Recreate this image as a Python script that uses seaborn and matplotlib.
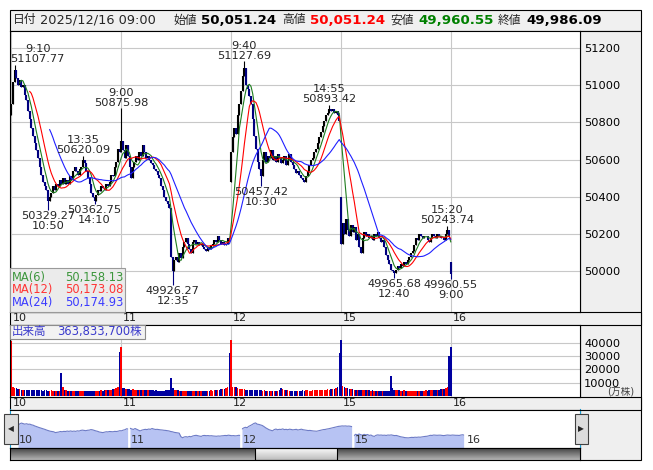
import numpy as np
import pandas as pd
import seaborn as sns
import matplotlib.pyplot as plt
from matplotlib import transforms
from matplotlib.patches import Rectangle
from matplotlib.colors import LinearSegmentedColormap

# ---- chart values: 5-minute bars (9:00-11:30, 12:30-15:30) ----
days = ["10", "11", "12", "15", "16"]
day_open = [50840.0, 50640.0, 50480.0, 50400.0, 50051.24]

close_d10 = [50900, 51020, 51080, 51040, 51000, 51030, 50990, 51000, 50950, 50920,
             50860, 50820, 50770, 50730, 50690, 50650, 50610, 50560, 50520, 50480,
             50460, 50440, 50380, 50400, 50420, 50460, 50440, 50470, 50460, 50490,
             50470, 50500, 50470, 50490, 50470, 50510, 50490, 50540, 50560, 50540,
             50520, 50550, 50560, 50600, 50580, 50540, 50500, 50470, 50420, 50400,
             50380, 50410, 50440, 50430, 50460, 50450, 50440, 50470, 50460, 50480,
             50520, 50510, 50560, 50590, 50660, 50640]
close_d11 = [50700, 50650, 50610, 50680, 50620, 50560, 50500, 50560, 50590, 50620,
             50600, 50640, 50620, 50680, 50640, 50610, 50620, 50600, 50580, 50570,
             50550, 50540, 50520, 50500, 50460, 50440, 50400, 50380, 50360, 50340,
             50080, 50000, 50060, 50080, 50050, 50100, 50070, 50130, 50160, 50180,
             50150, 50120, 50100, 50160, 50170, 50150, 50160, 50140, 50150, 50130,
             50120, 50110, 50130, 50120, 50140, 50150, 50170, 50160, 50190, 50170,
             50150, 50160, 50140, 50150, 50180, 50170]
close_d12 = [50640, 50720, 50770, 50740, 50840, 50900, 50970, 51050, 51090, 51000,
             50980, 50940, 50900, 50820, 50730, 50660, 50590, 50550, 50510, 50600,
             50640, 50590, 50620, 50610, 50650, 50600, 50620, 50590, 50630, 50610,
             50580, 50600, 50620, 50570, 50600, 50630, 50590, 50570, 50550, 50530,
             50540, 50520, 50500, 50490, 50480, 50510, 50540, 50570, 50600, 50610,
             50640, 50660, 50690, 50720, 50750, 50780, 50810, 50840, 50850, 50870,
             50860, 50870, 50850, 50860, 50840, 50810]
close_d15 = [50150, 50260, 50200, 50280, 50220, 50190, 50250, 50210, 50240, 50170,
             50200, 50130, 50100, 50180, 50210, 50190, 50200, 50180, 50190, 50170,
             50200, 50190, 50210, 50180, 50160, 50170, 50130, 50090, 50060, 50040,
             50010, 50000, 49990, 50010, 50030, 50020, 50040, 50030, 50050, 50040,
             50060, 50080, 50100, 50110, 50140, 50180, 50170, 50200, 50190, 50180,
             50190, 50190, 50170, 50160, 50180, 50200, 50190, 50180, 50200, 50190,
             50180, 50180, 50170, 50200, 50220, 50192]
close_d16 = [49986.09]

# volume in 万株
vol_d10 = [41500, 7200, 6600, 6000, 5800, 5200,
           5000, 4800, 5000, 4600, 4800, 4700, 4900, 4600, 4500, 4700,
           4600, 4500, 4800, 4400, 4600, 4500, 4400, 4300, 4500, 4400,
           4200, 4300, 4100, 4400,
           17500, 6800,
           4800, 4500, 4300, 4200, 4100, 4200, 4000, 4100, 4200, 4000,
           4100, 4000, 4200, 4100, 4000, 4300, 4100, 4200, 4300, 4100,
           4400, 4200, 4500, 4300, 4600, 4500, 4800, 4700, 5000, 5200,
           5500, 6000, 6800, 33300]
vol_d11 = [36500, 6500, 6000, 5600, 5800, 5200,
           5000, 5200, 4800, 5000, 4700, 4900, 4600, 4800, 5000, 4700,
           4600, 4800, 4500, 4600, 4400, 4500, 4300, 4400, 4200, 4300,
           4400, 4600, 4500, 4800,
           13500, 6600,
           5000, 4600, 4500, 4300, 4400, 4200, 4300, 4100, 4200, 4000,
           4100, 4200, 4000, 4100, 4300, 4000, 4200, 4100, 4300, 4200,
           4400, 4300, 4500, 4400, 4700, 4600, 4900, 5000, 5300, 5600,
           5800, 6200, 7000, 32000]
vol_d12 = [41800, 7200, 7000, 6800, 6200, 5800,
           5600, 5400, 5200, 5000, 5100, 4900, 4800, 5000, 4700, 4600,
           4800, 4500, 4600, 4400, 4500, 4300, 4400, 4200, 4300, 4100,
           4200, 4400, 4300, 4500,
           6400, 5600,
           4800, 4600, 4500, 4300, 4400, 4200, 4300, 4100, 4200, 4400,
           4300, 4500, 4400, 4600, 4500, 4300, 4400, 4600, 4500, 4700,
           4600, 4800, 4700, 4900, 5000, 4800, 5200, 5100, 5400, 5600,
           5900, 6300, 7200, 32300]
vol_d15 = [41800, 7400, 6800, 6400, 6000, 5600,
           5400, 5200, 5000, 4900, 5000, 4800, 4700, 4900, 4600, 4700,
           4500, 4600, 4400, 4500, 4300, 4400, 4200, 4300, 4400, 4200,
           4300, 4100, 4200, 4400,
           15000, 6200,
           5000, 4700, 4500, 4600, 4400, 4300, 4500, 4200, 4300, 4400,
           4200, 4300, 4100, 4200, 4400, 4300, 4200, 4400, 4300, 4500,
           4400, 4600, 4500, 4700, 4600, 4800, 4700, 5000, 5200, 5500,
           5800, 6200, 7000, 30300]
vol_d16 = [36383]

# labelled highs and lows: (day, bar of day, time, price, kind)
extremes = [
    (0, 2, "9:10", 51107.77, "high"),
    (0, 22, "10:50", 50329.27, "low"),
    (0, 43, "13:35", 50620.09, "high"),
    (0, 50, "14:10", 50362.75, "low"),
    (1, 0, "9:00", 50875.98, "high"),
    (1, 31, "12:35", 49926.27, "low"),
    (2, 8, "9:40", 51127.69, "high"),
    (2, 18, "10:30", 50457.42, "low"),
    (2, 59, "14:55", 50893.42, "high"),
    (3, 32, "12:40", 49965.68, "low"),
    (3, 64, "15:20", 50243.74, "high"),
    (4, 0, "9:00", 49960.55, "low"),
]

header_labels = ["日付", "始値", "高値", "安値", "終値"]
header_date = "2025/12/16 09:00"
header_values = ["50,051.24", "50,051.24", "49,960.55", "49,986.09"]
ma_windows = [6, 12, 24]
ma_values = ["50,158.13", "50,173.08", "50,174.93"]
volume_text = "363,833,700株"
price_ticks = [50000, 50200, 50400, 50600, 50800, 51000, 51200]
vol_ticks = [10000, 20000, 30000, 40000]

# ---- build the frame ----
closes = [close_d10, close_d11, close_d12, close_d15, close_d16]
vols = [vol_d10, vol_d11, vol_d12, vol_d15, vol_d16]
df = pd.DataFrame({
    "close": [c for day in closes for c in day],
    "volume": [v for day in vols for v in day],
    "day": [d for d, day in enumerate(closes) for _ in day],
})
df["bar"] = np.arange(len(df))
starts = [int(df.index[df.day == d][0]) for d in range(len(days))]
df["open"] = df["close"].shift(1)
df.loc[starts, "open"] = day_open
df["high"] = df[["open", "close"]].max(axis=1)
df["low"] = df[["open", "close"]].min(axis=1)
for d, b, t, v, kind in extremes:
    df.loc[starts[d] + b, kind] = v
df["up"] = df["close"] >= df["open"]
for w in ma_windows:
    df[f"ma{w}"] = df["close"].rolling(w).mean()

# ---- figure ----
sns.set_theme(style="white")
plt.rcParams["font.family"] = ["DejaVu Sans", "Noto Sans CJK JP"]

W, H = 653, 470
fig = plt.figure(figsize=(W / 100, H / 100), dpi=100)
fig.patch.set_facecolor("white")


def frect(x0, y0, x1, y1):
    return [x0 / W, 1 - y1 / H, (x1 - x0) / W, (y1 - y0) / H]


def fbox(x0, y0, x1, y1, fc, ec="black", lw=0.8, z=-1, alpha=1.0):
    fig.add_artist(Rectangle((x0 / W, 1 - y1 / H), (x1 - x0) / W, (y1 - y0) / H,
                             transform=fig.transFigure, facecolor=fc, edgecolor=ec,
                             linewidth=lw, zorder=z, alpha=alpha))


def ftext(x, y, s, **kw):
    fig.text(x / W, 1 - y / H, s, **kw)


GRID = "#c8c8c8"
PANEL = "#efefef"

# background frames
fbox(10, 10, 641, 30.5, "#f0f0f0")
fbox(580, 30.5, 641, 460, PANEL)
fbox(10, 311.5, 641, 325, PANEL)
fbox(10, 397, 641, 409.5, PANEL)

# header line
hx_label = [13, 173, 282, 390, 498]
hx_value = [201, 310, 418, 526]
h_colors = ["black", "#ff0000", "#008000", "black"]
for x, s in zip(hx_label, header_labels):
    ftext(x, 20, s, fontsize=8.5, va="center", zorder=6)
ftext(40, 20, header_date, fontsize=9.3, va="center", zorder=6)
for x, s, c in zip(hx_value, header_values, h_colors):
    ftext(x, 20, s, fontsize=9.6, fontweight="bold", color=c, va="center", zorder=6)

xlim = (-0.78, 341.6)
bounds = starts

# ---- price panel ----
ax = fig.add_axes(frect(10, 30.5, 580, 311.5))
ax.set_xlim(*xlim)
ax.set_ylim(49785, 51294)
ax.set_yticks(price_ticks)
ax.set_xticks(bounds)
ax.set_xticklabels([])
ax.yaxis.tick_right()
ax.tick_params(axis="y", length=0, pad=3, labelsize=8.2, labelcolor="black")
ax.tick_params(axis="x", length=0)
ax.grid(True, color=GRID, lw=0.8)
ax.set_axisbelow(True)
for s in ax.spines.values():
    s.set_color("black")
    s.set_linewidth(0.8)

cols = np.where(df["up"], "#000000", "#00007f")
ax.vlines(df["bar"], df["low"], df["high"], colors=cols, lw=0.8, zorder=2)
ax.vlines(df["bar"], df["open"], df["close"], colors=cols, lw=1.5, zorder=2)

ma_colors = ["#1e7d1e", "#ff0000", "#2020ff"]
for w, c in zip(ma_windows, ma_colors):
    sub = df.dropna(subset=[f"ma{w}"])
    sns.lineplot(data=sub, x="bar", y=f"ma{w}", color=c, lw=0.8, ax=ax, zorder=3)
ax.set_xlabel("")
ax.set_ylabel("")

for d, b, t, v, kind in extremes:
    i = starts[d] + b
    xt = max(i, xlim[0] + 16.6)
    if kind == "high":
        tr = transforms.offset_copy(ax.transData, fig=fig, y=0.5, units="points")
        ax.text(xt, v, f"{t}\n{v:.2f}", transform=tr, ha="center", va="bottom",
                fontsize=8.2, linespacing=1.0, zorder=4)
    else:
        tr = transforms.offset_copy(ax.transData, fig=fig, y=-0.5, units="points")
        ax.text(xt, v, f"{v:.2f}\n{t}", transform=tr, ha="center", va="top",
                fontsize=8.2, linespacing=1.0, zorder=4)

# MA legend box
fbox(10, 268, 125, 311.5, "#ebebeb", ec="#9a9a9a", z=5)
ma_text_colors = ["#3c963c", "#ff3434", "#3a3aff"]
for k, (w, val, c) in enumerate(zip(ma_windows, ma_values, ma_text_colors)):
    y = 277 + k * 12.8
    ftext(12, y, f"MA({w})", fontsize=8.3, color=c, va="center", zorder=6)
    ftext(124, y, val, fontsize=8.3, color=c, va="center", ha="right", zorder=6)

# day labels under price panel
blend = transforms.blended_transform_factory(ax.transData, ax.transAxes)
for b, lab in zip(bounds, days):
    ax.text(b + 1.0, -6.8 / 281, lab, transform=blend, fontsize=8, va="center",
            ha="left", clip_on=False, color="#202020")

# ---- volume panel ----
axv = fig.add_axes(frect(10, 325, 580, 397))
axv.set_xlim(*xlim)
axv.set_ylim(-400, 53000)
vcols = np.where(df["up"], "#ff0000", "#0000a0")
axv.bar(df["bar"], df["volume"], width=0.9, color=vcols, linewidth=0, zorder=2)
axv.set_yticks(vol_ticks)
axv.set_xticks(bounds)
axv.set_xticklabels([])
axv.yaxis.tick_right()
axv.tick_params(axis="y", length=0, pad=3, labelsize=8.2, labelcolor="black")
axv.tick_params(axis="x", length=0)
axv.grid(True, color=GRID, lw=0.8)
axv.set_axisbelow(True)
for s in axv.spines.values():
    s.set_color("black")
    s.set_linewidth(0.8)
ftext(607, 392, "(万株)", fontsize=7, color="#404040", va="center", zorder=6)

fbox(10, 325, 145, 338.5, "#f2f2f2", ec="#8c8c8c", z=5)
ftext(12, 331.5, "出来高", fontsize=8.3, color="#3a3acc", va="center", zorder=6)
ftext(57, 331.5, volume_text, fontsize=8.3, color="#3a3acc", va="center", zorder=6)

blendv = transforms.blended_transform_factory(axv.transData, axv.transAxes)
for b, lab in zip(bounds, days):
    axv.text(b + 1.0, -6.3 / 72, lab, transform=blendv, fontsize=8, va="center",
             ha="left", clip_on=False, color="#202020")

# ---- navigator ----
axn = fig.add_axes(frect(10, 409.5, 580, 447.5))
axn.set_xlim(-4.7, 331.2)
axn.set_ylim(49284, 52077)
axn.set_xticks([])
axn.set_yticks([])
for d in range(len(days)):
    sub = df[df.day == d]
    if len(sub) > 1:
        axn.fill_between(sub["bar"], sub["close"], 49284, color="#b7c3f3", lw=0)
        sns.lineplot(data=sub, x="bar", y="close", color="#6d7bc6", lw=0.8, ax=axn)
for b in bounds[1:]:
    axn.axvline(b - 0.5, color="white", lw=1.2)
blendn = transforms.blended_transform_factory(axn.transData, axn.transAxes)
for b, lab in zip(bounds, days):
    axn.text(b + 0.6, 0.06, lab, transform=blendn, fontsize=8, va="bottom",
             ha="left", color="#303030")
axn.set_xlabel("")
axn.set_ylabel("")
for side in ["left", "right"]:
    axn.spines[side].set_color("#1aa0d8")
    axn.spines[side].set_linewidth(0.8)
for side in ["top", "bottom"]:
    axn.spines[side].set_color("black")
    axn.spines[side].set_linewidth(0.8)

# navigator buttons
for x0, x1, tri in [(4, 17.5, "◀"), (574.5, 588, "▶")]:
    fbox(x0, 414, x1, 443.5, "#dcdcdc", ec="#404040", z=6)
    ftext((x0 + x1) / 2, 428.5, tri, fontsize=5.5, ha="center", va="center", zorder=7)

# scrollbar
axs = fig.add_axes(frect(10, 447.5, 580, 460))
dark = LinearSegmentedColormap.from_list("dark", ["#3a3a3a", "#b4b4b4"])
light = LinearSegmentedColormap.from_list("light", ["#ffffff", "#bdbdbd"])
grad = np.linspace(0, 1, 32).reshape(-1, 1)
axs.imshow(grad, extent=[0, 570, 0, 1], aspect="auto", cmap=dark)
axs.imshow(grad, extent=[245, 327, 0, 1], aspect="auto", cmap=light)
axs.add_patch(Rectangle((245, 0), 82, 1, facecolor="none", edgecolor="black", lw=0.8))
axs.set_xlim(0, 570)
axs.set_ylim(0, 1)
axs.set_xticks([])
axs.set_yticks([])
for s in axs.spines.values():
    s.set_color("black")
    s.set_linewidth(0.8)

fig.savefig("out.png", dpi=100)
